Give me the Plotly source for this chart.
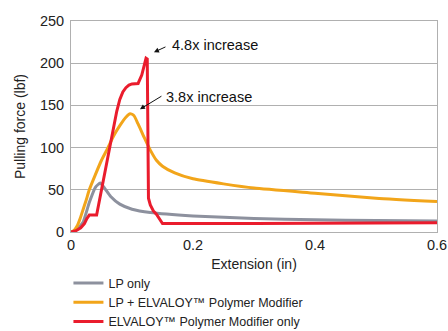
import plotly.graph_objects as go

# Data
lp_x = [0, 0.01, 0.02, 0.03, 0.04, 0.048, 0.055, 0.065, 0.08, 0.1, 0.13, 0.2, 0.3, 0.4, 0.5, 0.6]
lp_y = [0, 3, 12, 35, 53, 58, 52, 42, 33, 27, 23, 19, 16, 14.5, 13.5, 13]

lpe_x = [0, 0.005, 0.01, 0.015, 0.02, 0.025, 0.03, 0.04, 0.05, 0.06, 0.07, 0.08, 0.09, 0.097,
         0.103, 0.11, 0.12, 0.13, 0.14, 0.15, 0.17, 0.2, 0.25, 0.3, 0.4, 0.5, 0.6]
lpe_y = [0, 2, 7, 16, 27, 38, 50, 68, 85, 99, 114, 126, 136, 140,
         138, 128, 112, 97, 85, 78, 70, 63, 57, 52, 46, 40, 36]

elv_x = [0, 0.008, 0.016, 0.022, 0.026, 0.03, 0.042, 0.05, 0.06, 0.068, 0.075, 0.08, 0.085, 0.09,
         0.095, 0.1, 0.11, 0.116, 0.12, 0.123, 0.125, 0.126, 0.127, 0.13, 0.135, 0.14, 0.145,
         0.15, 0.16, 0.3, 0.6]
elv_y = [0, 1.5, 5, 10, 16, 20, 20, 50, 88, 118, 143, 157, 166, 171,
         174, 175.5, 176, 186, 198, 206, 205, 120, 40, 32, 25, 21, 15,
         10, 10, 10, 11]

names = ["LP only", "LP + ELVALOY™ Polymer Modifier", "ELVALOY™ Polymer Modifier only"]
colors = ["#8d919e", "#f2a51a", "#ea1c2d"]
shapes = ["spline", "spline", "linear"]

fig = go.Figure()
for xs, ys, n, c, s in zip([lp_x, lpe_x, elv_x], [lp_y, lpe_y, elv_y], names, colors, shapes):
    fig.add_trace(go.Scatter(x=xs, y=ys, mode="lines", name=n,
                             line=dict(color=c, width=3, shape=s, smoothing=0.5)))

fig.add_annotation(x=0.136, y=213, ax=13, ay=-6, text="", showarrow=True,
                   arrowhead=2, arrowsize=1, arrowwidth=1, arrowcolor="#111", standoff=0)
fig.add_annotation(x=0.162, y=221.5, text="4.8x increase", showarrow=False, xanchor="left",
                   yanchor="middle", font=dict(size=14.5, color="#111"))
fig.add_annotation(x=0.113, y=145.4, ax=23, ay=-14, text="", showarrow=True,
                   arrowhead=2, arrowsize=1, arrowwidth=1, arrowcolor="#111", standoff=0)
fig.add_annotation(x=0.153, y=160, text="3.8x increase", showarrow=False, xanchor="left",
                   yanchor="middle", font=dict(size=14.5, color="#111"))

fig.update_layout(
    width=448, height=331,
    margin=dict(l=71, r=11, t=21, b=99, autoexpand=False),
    paper_bgcolor="white", plot_bgcolor="white",
    font=dict(family="Liberation Sans, Arial, sans-serif", size=14, color="#222"),
    showlegend=True,
    legend=dict(x=-0.007, y=-0.172, xanchor="left", yanchor="top", orientation="v",
                font=dict(size=12.5, color="#222"), bgcolor="rgba(0,0,0,0)",
                tracegroupgap=0),
    xaxis=dict(range=[0, 0.6], tickvals=[0, 0.2, 0.4, 0.6], ticktext=["0", "0.2", "0.4", "0.6"],
               showgrid=False, showline=True, linecolor="#b0b0b0", linewidth=1, mirror=True,
               zeroline=False, ticks="", automargin=False, tickfont=dict(size=14.5),
               title=dict(text="Extension (in)", font=dict(size=14), standoff=6)),
    yaxis=dict(range=[0, 250], tickvals=[0, 50, 100, 150, 200, 250],
               showgrid=True, gridcolor="#b0b0b0", gridwidth=1, showline=True, linecolor="#b0b0b0",
               linewidth=1, mirror=True, zeroline=False, ticks="", automargin=False,
               tickfont=dict(size=14.5), ticklabelstandoff=3,
               title=dict(text="Pulling force (lbf)", font=dict(size=14), standoff=10)),
)

fig.write_html("out.html", config={"displayModeBar": False},
               post_script="document.body.style.margin='0';document.body.style.overflow='hidden';")
